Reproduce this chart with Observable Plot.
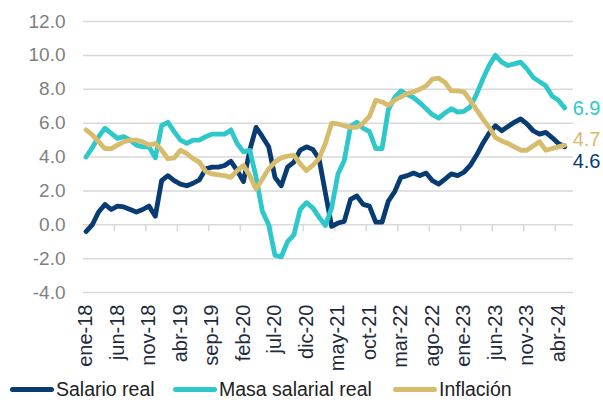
<!DOCTYPE html>
<html>
<head>
<meta charset="utf-8">
<script src="https://cdn.jsdelivr.net/npm/d3@7"></script>
<script src="https://cdn.jsdelivr.net/npm/@observablehq/plot@0.6"></script>
<style>
  html, body { margin: 0; padding: 0; background: #fff; }
  body { width: 603px; height: 405px; position: relative; overflow: hidden; font-family: "Liberation Sans", Arial, sans-serif; }
  #chart svg { display: block; }
  .legend { position: absolute; top: 376px; left: 0; width: 603px; height: 26px; }
  .item { position: absolute; top: 0; display: flex; align-items: center; height: 26px; font-size: 19.5px; color: #222; white-space: nowrap; }
  .sw { display: inline-block; width: 44px; height: 5px; border-radius: 3px; margin-right: 2px; }
</style>
</head>
<body>
<div id="chart"></div>
<div class="legend" id="legend"></div>
<script>
const months = [
  "ene-18","feb-18","mar-18","abr-18","may-18","jun-18","jul-18","ago-18","sep-18","oct-18","nov-18","dic-18",
  "ene-19","feb-19","mar-19","abr-19","may-19","jun-19","jul-19","ago-19","sep-19","oct-19","nov-19","dic-19",
  "ene-20","feb-20","mar-20","abr-20","may-20","jun-20","jul-20","ago-20","sep-20","oct-20","nov-20","dic-20",
  "ene-21","feb-21","mar-21","abr-21","may-21","jun-21","jul-21","ago-21","sep-21","oct-21","nov-21","dic-21",
  "ene-22","feb-22","mar-22","abr-22","may-22","jun-22","jul-22","ago-22","sep-22","oct-22","nov-22","dic-22",
  "ene-23","feb-23","mar-23","abr-23","may-23","jun-23","jul-23","ago-23","sep-23","oct-23","nov-23","dic-23",
  "ene-24","feb-24","mar-24","abr-24","may-24"
];
const tickLabels = ["ene-18","jun-18","nov-18","abr-19","sep-19","feb-20","jul-20","dic-20","may-21","oct-21","mar-22","ago-22","ene-23","jun-23","nov-23","abr-24"];
const yTicks = [-4, -2, 0, 2, 4, 6, 8, 10, 12];
const seriesNames = ["Salario real", "Masa salarial real", "Inflación"];

const salarioReal = [
  -0.4, 0.0, 0.75, 1.2, 0.9, 1.1, 1.05, 0.9, 0.75, 0.9, 1.1, 0.5,
  2.6, 2.9, 2.6, 2.4, 2.3, 2.45, 2.65, 3.3, 3.4, 3.4, 3.5, 3.75,
  3.2, 2.55, 4.4, 5.75, 5.2, 4.6, 2.8, 2.3, 3.4, 3.7, 4.4, 4.6,
  4.45, 3.9, 1.9, -0.1, 0.1, 0.2, 1.5, 1.7, 1.2, 1.1, 0.15, 0.15,
  1.4, 1.95, 2.8, 2.9, 3.05, 2.9, 3.05, 2.6, 2.4, 2.7, 3.0, 2.9,
  3.1, 3.5, 4.1, 4.8, 5.4, 5.85, 5.55, 5.8, 6.05, 6.25, 5.95, 5.55,
  5.35, 5.45, 5.15, 4.8, 4.6
];
const masaSalarialReal = [
  4.0, 4.55, 5.2, 5.7, 5.4, 5.1, 5.2, 5.0, 4.7, 4.6, 4.6, 3.95,
  5.85, 6.05, 5.5, 5.0, 4.8, 5.0, 5.0, 5.2, 5.35, 5.35, 5.35, 5.6,
  4.8, 4.3, 4.4, 2.8, 0.8, 0.0, -1.8, -1.9, -1.0, -0.6, 0.9, 1.3,
  1.0, 0.45, -0.05, 1.0, 3.0, 3.8, 5.8, 6.05, 5.7, 5.5, 4.5, 4.5,
  6.8, 7.5, 7.9, 7.7, 7.5, 7.2, 6.85, 6.5, 6.3, 6.6, 6.85, 6.65,
  6.7, 6.95, 7.7, 8.6, 9.4, 10.0, 9.6, 9.4, 9.5, 9.6, 9.2, 8.7,
  8.45, 8.2, 7.6, 7.35, 6.9
];
const inflacion = [
  5.6, 5.3, 4.9, 4.5, 4.5, 4.7, 4.9, 5.0, 5.0, 4.9, 4.7, 4.8,
  4.4, 3.9, 3.95, 4.4, 4.2, 3.9, 3.7, 3.15, 3.0, 2.95, 2.9, 2.8,
  3.2, 3.5, 2.9, 2.1, 2.7, 3.3, 3.7, 3.95, 4.05, 4.1, 3.6, 3.2,
  3.5, 3.9, 4.8, 6.0, 5.95, 5.85, 5.75, 5.75, 6.0, 6.4, 7.35, 7.25,
  7.05, 7.35, 7.55, 7.75, 7.85, 8.0, 8.2, 8.6, 8.65, 8.4, 7.9, 7.9,
  7.85, 7.35, 6.8, 6.25, 5.75, 5.15, 4.95, 4.8, 4.6, 4.4, 4.4, 4.65,
  4.9, 4.4, 4.5, 4.6, 4.7
];

const colors = {"Salario real": "#073b72", "Masa salarial real": "#2ec7ca", "Inflación": "#d8bc6d"};
const labelDy = {"Salario real": 15, "Masa salarial real": 1, "Inflación": -6};

const seriesValues = [salarioReal, masaSalarialReal, inflacion];
const rows = [];
seriesNames.forEach((name, s) => {
  seriesValues[s].forEach((v, i) => rows.push({series: name, i, month: months[i], v}));
});
const lastRows = seriesNames.map((name, s) => ({series: name, i: seriesValues[s].length - 1, v: seriesValues[s][seriesValues[s].length - 1]}));

const tickIdx = tickLabels.map(l => months.indexOf(l));
const boundaryIdx = tickIdx.slice(1).map(i => i - 0.5);

const lineMarks = seriesNames.map(name =>
  Plot.line(rows.filter(d => d.series === name), {
    x: "i", y: "v", stroke: colors[name], strokeWidth: 4.8,
    strokeLinejoin: "round", strokeLinecap: "round"
  })
);
const textMarks = lastRows.map(d =>
  Plot.text([d], {
    x: "i", y: "v", text: r => r.v.toFixed(1), fill: colors[d.series],
    textAnchor: "start", dx: 8, dy: labelDy[d.series], fontSize: 20
  })
);

const chart = Plot.plot({
  width: 603,
  height: 372,
  marginTop: 21,
  marginBottom: 80,
  marginLeft: 83,
  marginRight: 30,
  style: {fontFamily: "'Liberation Sans', Arial, sans-serif", background: "#fff", overflow: "visible"},
  x: {type: "linear", domain: [-0.4, 77.4]},
  y: {domain: [-4, 12]},
  marks: [
    Plot.gridY(yTicks, {stroke: "#d9d9d9", strokeOpacity: 1, strokeWidth: 1.5}),
    Plot.ruleX(boundaryIdx, {x: d => d, y1: 0, y2: -0.42, stroke: "#d9d9d9", strokeWidth: 1.5}),
    Plot.axisY(yTicks, {tickSize: 0, tickPadding: 18, tickFormat: d => d.toFixed(1), fontSize: 19, fill: "#7f7f7f", label: null}),
    Plot.axisX(tickIdx, {tickSize: 0, tickPadding: 12, tickRotate: -90, tickFormat: i => months[i], fontSize: 20, fill: "#1e2b3c", label: null}),
    ...lineMarks,
    ...textMarks
  ]
});
document.getElementById("chart").appendChild(chart);

const legendPos = [10, 173, 393];
const legend = document.getElementById("legend");
seriesNames.forEach((name, k) => {
  const item = document.createElement("div");
  item.className = "item";
  item.style.left = legendPos[k] + "px";
  const sw = document.createElement("span");
  sw.className = "sw";
  sw.style.background = colors[name];
  const tx = document.createElement("span");
  tx.textContent = name;
  item.appendChild(sw);
  item.appendChild(tx);
  legend.appendChild(item);
});
</script>
</body>
</html>
